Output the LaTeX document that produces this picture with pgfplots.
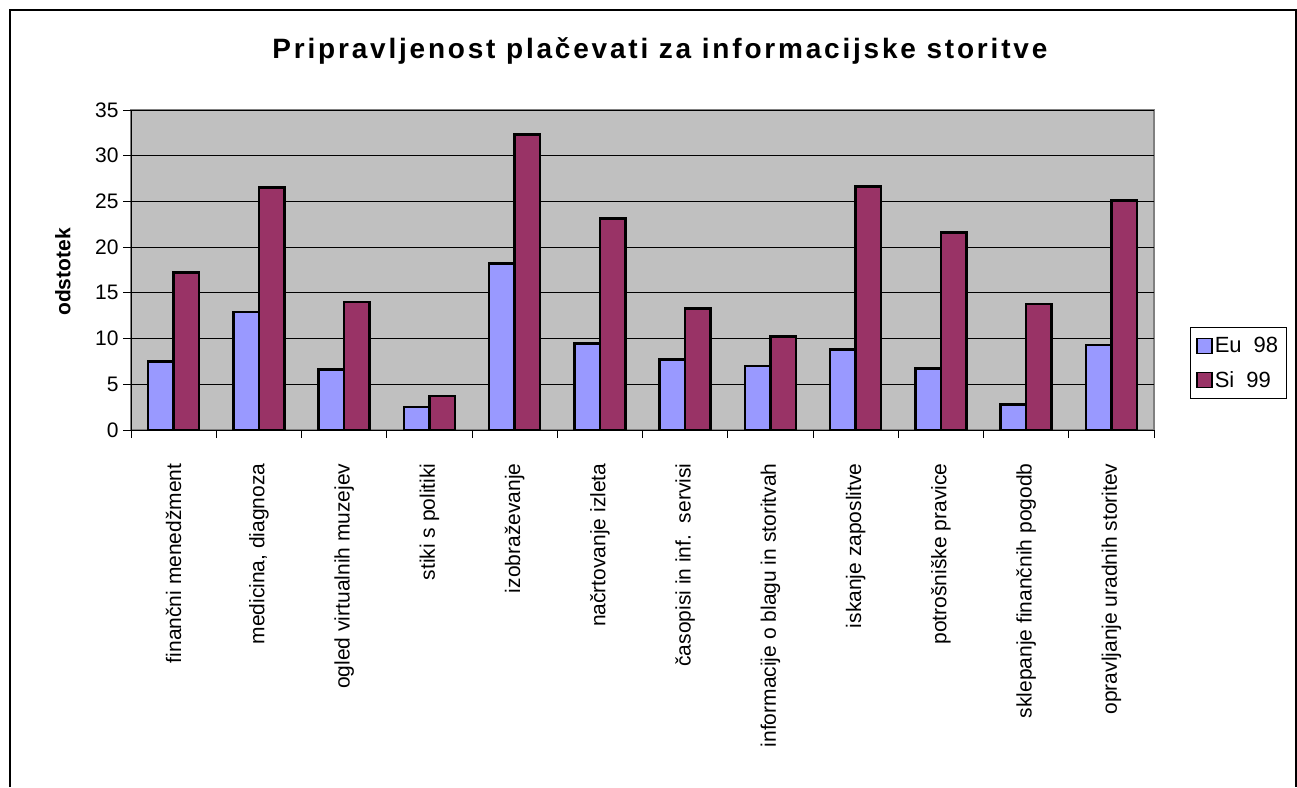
\documentclass[border=0pt]{standalone}
\usepackage{pgfplots}
\pgfplotsset{compat=1.18}
\usepackage{fontspec}
\setmainfont{Liberation Sans}
\newfontfamily\titlefont[LetterSpace=10]{Liberation Sans}
\definecolor{euc}{HTML}{9999FF}
\definecolor{sic}{HTML}{993366}
\definecolor{bgc}{HTML}{C0C0C0}
\definecolor{brd}{HTML}{808080}

\pgfplotstableread{
x eu si
0 7.5 17.25
1 12.9 26.5
2 6.6 14.0
3 2.5 3.7
4 18.2 32.3
5 9.45 23.1
6 7.7 13.3
7 7.0 10.25
8 8.8 26.6
9 6.75 21.6
10 2.8 13.8
11 9.3 25.1
}\datatable

\begin{document}
\begin{tikzpicture}[x=1pt,y=1pt]
\useasboundingbox (0,0) rectangle (1297,787);
\draw[line width=1.2pt] (10,0) -- (10,777) -- (1296,777) -- (1296,0);
\begin{axis}[
  at={(131pt,357pt)}, anchor=south west,
  scale only axis, width=1023pt, height=320pt,
  ybar=0pt, bar width=25.5pt,
  xmin=-0.5, xmax=11.5, ymin=0, ymax=35,
  ytick={0,5,...,35},
  xtick={0,...,11},
  xticklabels={finančni menedžment, {medicina, diagnoza}, ogled virtualnih muzejev, stiki s politiki, izobraževanje, načrtovanje izleta, časopisi in inf.\ \ servisi, informacije o blagu in storitvah, iskanje zaposlitve, potrošniške pravice, sklepanje finančnih pogodb, opravljanje uradnih storitev},
  minor xtick={-0.5,0.5,...,11.5},
  every major x tick/.append style={draw=none},
  tick align=outside,
  major tick length=8pt, minor tick length=8pt,
  tick style={black, line width=0.8pt},
  ymajorgrids, grid style={black, line width=0.9pt},
  axis x line*=bottom, axis y line*=left,
  axis line style={black, line width=1pt, -},
  axis background/.style={fill=bgc, draw=brd, line width=1.5pt},
  /pgf/number format/assume math mode=true,
  yticklabel style={font=\fontsize{21}{24}\selectfont, xshift=-1pt},
  xticklabel style={font=\fontsize{21}{24}\selectfont, rotate=90, anchor=east},
  xticklabel shift=22pt,
  title={Pripravljenost plačevati za informacijske storitve},
  title style={font=\fontsize{28}{32}\selectfont\titlefont\bfseries, at={(axis description cs:0.517,1.166)}, anchor=center},
  ylabel={odstotek},
  ylabel style={font=\fontsize{21}{24}\selectfont\bfseries, at={(axis description cs:-0.0665,0.494)}, anchor=center},
  legend style={at={(1.0352,0.322)}, anchor=north west, draw=black, line width=0.8pt, fill=white,
    font=\fontsize{22}{26}\selectfont, inner xsep=6pt, inner ysep=8pt, row sep=13pt},
  legend cell align=left,
  legend image code/.code={\draw[#1, line width=1.4pt, draw=black] (0pt,-7.5pt) rectangle (15pt,7.5pt);},
]
\addplot[fill=euc, draw=black, line width=2.6pt] table[x=x, y=eu] {\datatable};
\addplot[fill=sic, draw=black, line width=2.6pt] table[x=x, y=si] {\datatable};
\legend{Eu\hspace{12pt}98, Si\hspace{12pt}99}
\end{axis}
\end{tikzpicture}
\end{document}
